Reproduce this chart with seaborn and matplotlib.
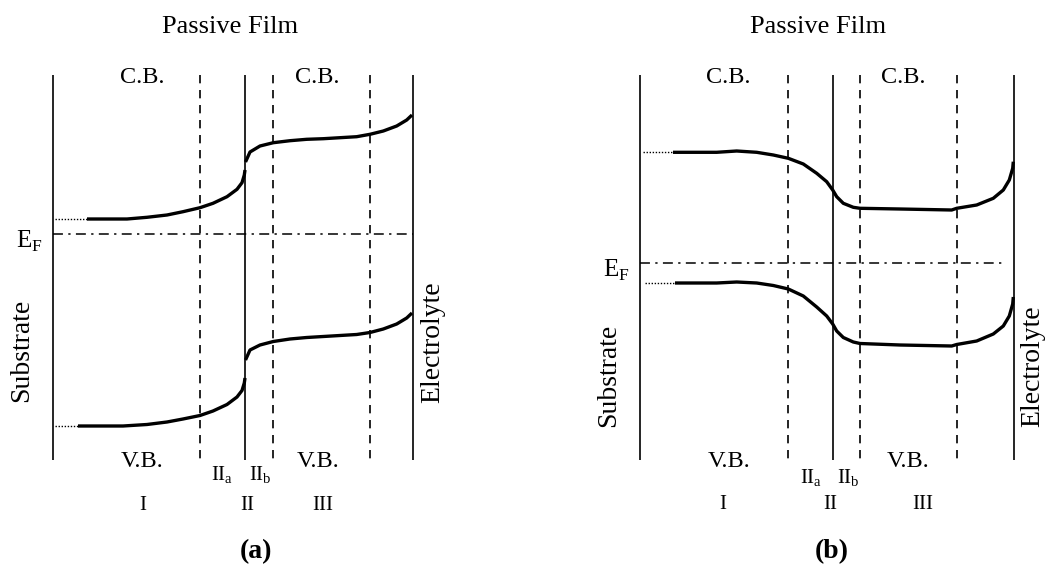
import matplotlib
matplotlib.use("Agg")
import matplotlib.pyplot as plt
import seaborn as sns

sns.set_theme(style="white")
plt.rcParams['font.family'] = ['Liberation Serif', 'DejaVu Serif']
plt.rcParams['mathtext.fontset'] = 'custom'
plt.rcParams['mathtext.rm'] = 'Liberation Serif'
plt.rcParams['text.color'] = 'black'

# ------------------------------------------------------------
# dados (coordenadas em pixels da imagem)
# ------------------------------------------------------------
TOPO, BASE = 75, 460

# painel (a)
SOLIDAS_A = [53, 245, 413]
TRACEJADAS_A = [200, 273, 370]
EF_A = (53, 413, 234)

CB_A1_X = [87, 127, 147, 167, 183, 200, 213, 227, 237, 242, 244.3, 245]
CB_A1_Y = [219, 219, 217.3, 215, 211.7, 207.7, 203.3, 196.7, 189.3, 182.7, 175, 170]
CB_A2_X = [245.5, 250, 260, 273.3, 290, 306.7, 323.3, 340, 356.7, 370, 383.3, 396.7, 406.7, 412]
CB_A2_Y = [162, 152, 146, 142.7, 140.7, 139.3, 138.7, 137.7, 136.7, 134.3, 131, 126, 120, 115]
CB_A_PONT = ([55, 87], [219, 219])

VB_A1_X = [78, 123, 147, 167, 183, 200, 213, 227, 237, 242, 244.3, 245]
VB_A1_Y = [426, 426, 424.5, 422, 419, 415.5, 411, 404.5, 397, 390.5, 383, 378]
VB_A2_X = [245.5, 250, 260, 273.3, 290, 306.7, 323.3, 340, 356.7, 370, 383.3, 396.7, 406.7, 412]
VB_A2_Y = [360, 350, 345, 341.5, 339, 337.5, 336.5, 335.5, 334.5, 332.5, 329, 324, 318, 313]
VB_A_PONT = ([55, 78], [426, 426])

# painel (b)
SOLIDAS_B = [640, 833, 1014]
TRACEJADAS_B = [788, 860, 957]
EF_B = (640, 1002, 263)

CB_B_X = [673, 716.7, 736.7, 756.7, 773.3, 788.3, 803.3, 816.7, 826.7, 832.7, 836.7, 843.3,
          853.3, 860, 900, 951.7, 956.7, 976.7, 993.3, 1003.3, 1009.3, 1012.7, 1013.3]
CB_B_Y = [152.3, 152.3, 151, 152.3, 155, 158.3, 164, 173.3, 181.7, 190, 196.7, 203.3,
          207.3, 208.3, 209, 210, 208.3, 205, 198.3, 190, 180, 168.3, 161.7]
CB_B_PONT = ([643, 673], [152.3, 152.3])

VB_B_X = [675, 716.7, 736.7, 756.7, 773.3, 788.3, 803.3, 816.7, 826.7, 832.7, 836.7, 843.3,
          853.3, 860, 900, 951.7, 956.7, 976.7, 993.3, 1003.3, 1009.3, 1012.7, 1013.3]
VB_B_Y = [283, 283, 282, 283, 285.5, 289, 296, 307, 316, 324, 331, 337.5,
          342, 343.5, 345, 346, 344.5, 341, 334, 326, 316, 304, 297]
VB_B_PONT = ([645, 675], [283, 283])

# textos: (texto, x, y)
TEXTOS_GRANDES = [("Passive Film", 230, 33), ("Passive Film", 818, 33)]
TEXTOS_BANDA = [("C.B.", 142, 83), ("C.B.", 317, 83), ("C.B.", 728, 83), ("C.B.", 903, 83),
                ("V.B.", 142, 467), ("V.B.", 318, 467), ("V.B.", 729, 467), ("V.B.", 908, 467)]
TEXTOS_REGIAO = [(r"II$_\mathregular{a}$", 222, 480), (r"II$_\mathregular{b}$", 260, 480),
                 (r"II$_\mathregular{a}$", 811, 483), (r"II$_\mathregular{b}$", 848, 483),
                 ("I", 143, 510), ("II", 247, 510), ("III", 323, 510),
                 ("I", 723, 509), ("II", 830, 509), ("III", 923, 509)]
TEXTOS_EF = [(43, 248), (630, 277)]
TEXTOS_LADO = [("Substrate", 22, 350), ("Electrolyte", 433, 342),
               ("Substrate", 609, 375), ("Electrolyte", 1033, 366)]
ROTULOS = [("(a)", 256, 558), ("(b)", 832, 558)]

fig = plt.figure(figsize=(10.48, 5.67), dpi=100)
ax = fig.add_axes([0, 0, 1, 1])
ax.set_xlim(0, 1048)
ax.set_ylim(567, 0)
ax.axis('off')

# linhas verticais (interfaces e limites das regiões)
ax.vlines(SOLIDAS_A + SOLIDAS_B, TOPO, BASE, color='black', lw=1.2)
ax.vlines(TRACEJADAS_A + TRACEJADAS_B, TOPO, BASE, color='black', lw=1.2,
          linestyles=(0, (5, 4)))

# nível de Fermi
for x0, x1, y in [EF_A, EF_B]:
    ax.hlines(y, x0, x1, color='black', lw=1.1, linestyles=(0, (6.5, 3.5, 1.5, 3.5)))

# bandas
curvas = [(CB_A1_X, CB_A1_Y), (CB_A2_X, CB_A2_Y), (VB_A1_X, VB_A1_Y), (VB_A2_X, VB_A2_Y),
          (CB_B_X, CB_B_Y), (VB_B_X, VB_B_Y)]
for xs, ys in curvas:
    sns.lineplot(x=xs, y=ys, sort=False, ax=ax, color='black', lw=2.4,
                 solid_capstyle='butt', solid_joinstyle='round')

for xs, ys in [CB_A_PONT, VB_A_PONT, CB_B_PONT, VB_B_PONT]:
    ax.plot(xs, ys, color='black', lw=1.0, linestyle=(0, (1, 1.2)))

# textos
for t, x, y in TEXTOS_GRANDES:
    ax.text(x, y, t, ha='center', va='baseline', fontsize=19)
for t, x, y in TEXTOS_BANDA:
    ax.text(x, y, t, ha='center', va='baseline', fontsize=17.5)
for t, x, y in TEXTOS_REGIAO:
    ax.text(x, y, t, ha='center', va='baseline', fontsize=15)
for x, y in TEXTOS_EF:
    ax.text(x, y, r"E$_\mathregular{F}$", ha='right', va='baseline', fontsize=18)
for t, x, y in TEXTOS_LADO:
    ax.text(x, y, t, ha='center', va='center', rotation=90, fontsize=20)
for t, x, y in ROTULOS:
    ax.text(x, y, t, ha='center', va='baseline', fontsize=20, fontweight='bold')

fig.savefig('out.png', dpi=100)
